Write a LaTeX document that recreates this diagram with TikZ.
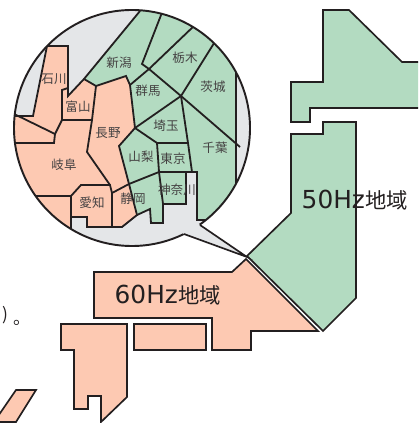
\documentclass[tikz,border=0pt]{standalone}
\usepackage{fontspec}
\setmainfont{Noto Sans CJK JP}
\newfontfamily\latnfont{DejaVu Sans}
\definecolor{gr}{RGB}{179,219,193}
\definecolor{pk}{RGB}{253,201,178}
\definecolor{gy}{RGB}{228,230,232}
\definecolor{ink}{RGB}{35,31,32}
\newcommand{\arealabel}[1]{{\latnfont\fontsize{18.6pt}{18pt}\selectfont #1}\kern0.5pt\fontsize{16pt}{18pt}\selectfont 地域}
\tikzset{
  x=0.75pt,y=-0.75pt,
  edge/.style={draw=ink,line width=1.35pt,line join=miter},
  ring/.style={draw=ink,line width=1.45pt},
  mapedge/.style={draw=ink,line width=1.25pt,line join=miter},
  pref/.style={text=ink!85,font=\fontsize{9.4pt}{10pt}\selectfont,inner sep=0pt},
  big/.style={text=ink,inner sep=0pt}
}
\begin{document}
\begin{tikzpicture}
\useasboundingbox (0,0) rectangle (418,423);
\clip (0,0) rectangle (418,423);
% main map
\path[mapedge,fill=gr] (323,10)--(349,10)--(402,62)--(425,62)--(425,108)--(310,108)--(310,122)--(291,122)--(291,82)--(323,82)--cycle;
\path[mapedge,fill=gr] (323,122)--(356,122)--(356,298)--(323,331)--(247,256)--(291,213)--(291,134)--(323,134)--cycle;
\path[mapedge,fill=pk] (94,272)--(232,272)--(246,259)--(318,331)--(251,331)--(251,350)--(212,350)--(212,318)--(94,318)--cycle;
\path[mapedge,fill=pk] (134,324)--(206,324)--(206,350)--(134,350)--cycle;
\path[mapedge,fill=pk] (61,324)--(127,324)--(127,397)--(101,422)--(101,396)--(88,396)--(88,409)--(74,409)--(74,350)--(61,350)--cycle;
\path[mapedge,fill=pk] (16,390)--(36,390)--(16,422)--(-6,422)--cycle;
% callout circle
\coordinate (c) at (132,128);
\fill[gy] (c) circle[radius=118];
\begin{scope}
\clip (c) circle[radius=118];
\fill[pk] (47,46)--(68,46)--(68,96)--(84,79)--(96,86)--(126,76)--(130,85)--(135,128)--(119,146)--(129,184)--(137,215)--(122,227)--(87,227)--(87,217)--(71,217)--(71,240)--(0,240)--(0,116)--(33,116)--cycle;
\fill[gr] (140,0)--(140,11)--(84,79)--(96,86)--(126,76)--(130,85)--(135,128)--(119,146)--(129,184)--(137,215)--(150,209)--(151,223)--(163,223)--(163,204)--(186,204)--(186,172)--(197,172)--(197,220)--(205,220)--(236,225)--(236,0)--cycle;
% outlines
\draw[edge] (50,30)--(47,46)--(68,46)--(68,96)--(84,79)--(140,11);
\draw[edge] (47,46)--(33,116)--(10,116);
\draw[edge] (84,79)--(96,86)--(126,76)--(130,85)--(135,128)--(119,146)--(129,184)--(137,215)--(122,227)--(87,227)--(87,217)--(71,217)--(71,235);
\draw[edge] (137,215)--(150,209)--(151,223)--(163,223)--(163,204)--(186,204)--(186,172)--(197,172)--(197,220)--(210,220);
\draw[edge] (236,60)--(236,195);
\draw[edge] (163,10)--(142,64)--(149,69)--(130,85);
\draw[edge] (149,69)--(195,25);
\draw[edge] (149,69)--(181,96)--(216,40);
\draw[edge] (181,96)--(240,147);
\draw[edge] (181,96)--(135,128)--(157,143)--(188,143);
\draw[edge] (181,96)--(188,143)--(192,172);
\draw[edge] (157,143)--(159,172)--(186,172);
\draw[edge] (159,172)--(163,204);
\draw[edge] (159,172)--(129,184)--(112,193)--(112,227);
\draw[edge] (112,193)--(110,185)--(81,185)--(71,196)--(71,217);
\draw[edge] (71,196)--(30,196);
\draw[edge] (110,185)--(87,152)--(92,120)--(96,86);
\draw[edge] (92,120)--(62,120)--(62,90)--(68,88);
\draw[edge] (62,120)--(55,134)--(54,143)--(10,143);
\draw[edge] (55,134)--(10,112);
\end{scope}
% tail and ring
\draw[ring] (c) circle[radius=118];
\coordinate (t1) at (184,234);
\coordinate (t2) at (200,225);
\coordinate (tip) at (247,257);
\fill[gy] (t1)--(tip)--(t2)--(196,222)--(180,231)--cycle;
\draw[mapedge] (t1)--(tip)--(t2);
% labels
\node[pref] (n1) at (119,63) {新潟};
\node[pref] (n2) at (185,58) {栃木};
\node[pref] (n3) at (213,87) {茨城};
\node[pref] (n4) at (148,91) {群馬};
\node[pref] (n5) at (54,79) {石川};
\node[pref] (n6) at (78,107) {富山};
\node[pref] (n7) at (108,133) {長野};
\node[pref] (n8) at (166,126) {埼玉};
\node[pref] (n9) at (215,148) {千葉};
\node[pref] (n10) at (141,157) {山梨};
\node[pref] (n11) at (173,159) {東京};
\node[pref] (n12) at (64,165) {岐阜};
\node[pref] (n13) at (92,203) {愛知};
\node[pref] (n14) at (133,199) {静岡};
\node[pref] (n15) at (177,190) {神奈川};
\node[big] (l60) at (168,295) {\arealabel{60Hz}};
\node[big] (l50) at (355,200) {\arealabel{50Hz}};
\node[text=ink,font=\fontsize{13pt}{14pt}\selectfont,inner sep=0pt] (frag1) at (5,315) {)};
\node[text=ink,font=\fontsize{13pt}{14pt}\selectfont,inner sep=0pt] (frag2) at (22,323) {。};
\end{tikzpicture}
\end{document}
